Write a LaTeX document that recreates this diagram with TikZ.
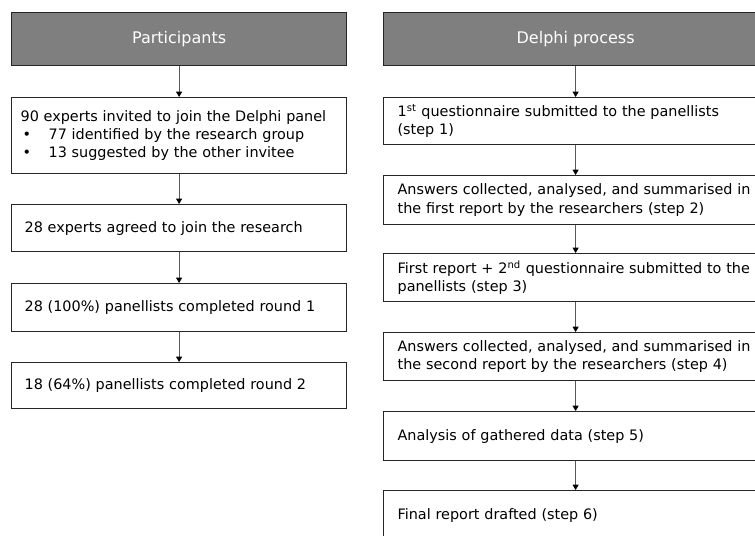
\documentclass[tikz,border=0pt]{standalone}
\usepackage{fontspec}
\setmainfont{DejaVu Sans}
\usetikzlibrary{arrows.meta}
\definecolor{hdrgray}{HTML}{7F7F7F}
\definecolor{linegray}{HTML}{262626}
\definecolor{arrgray}{HTML}{595959}
\begin{document}
\begin{tikzpicture}[x=0.75pt,y=-0.75pt,
  every node/.style={font=\fontsize{10.8}{13.8}\selectfont},
  hdr/.style={draw=linegray, line width=0.9pt, fill=hdrgray, text=white, anchor=north west,
    minimum height=39.75pt, inner ysep=0pt, inner xsep=0pt, align=center,
    font=\fontsize{12}{14}\selectfont},
  lbox/.style={draw=linegray, line width=0.9pt, anchor=north west, align=left,
    inner xsep=6.75pt, inner ysep=0pt, text width=237.75pt},
  rbox/.style={draw=linegray, line width=0.9pt, anchor=north west, align=left,
    inner xsep=10.5pt, inner ysep=0pt, text width=267pt},
  arr/.style={draw=arrgray, line width=0.6pt, -{Triangle[width=4.5pt,length=4pt,color=black]}}
]
\useasboundingbox (0,0) rectangle (755,535);
\clip (0,0) rectangle (755,535);
% left column
\node[hdr, minimum width=251.25pt] (hl) at (11,12) {Participants};
\node[lbox, minimum height=57pt] (l1) at (11,97) {90 experts invited to join the Delphi panel\\
\hspace*{1.5pt}\makebox[19.5pt][l]{•}77 identified by the research group\\
\hspace*{1.5pt}\makebox[19.5pt][l]{•}13 suggested by the other invitee};
\node[lbox, minimum height=35.25pt] (l2) at (11,204) {\hspace*{3pt}28 experts agreed to join the research};
\node[lbox, minimum height=36pt] (l3) at (11,283) {\hspace*{3pt}28 (100\%) panellists completed round 1};
\node[lbox, minimum height=34.5pt] (l4) at (11,362) {\hspace*{3pt}18 (64\%) panellists completed round 2};
\draw[arr] (hl.south) -- (l1.north);
\draw[arr] (l1.south) -- (l2.north);
\draw[arr] (l2.south) -- (l3.north);
\draw[arr] (l3.south) -- (l4.north);
% right column
\node[hdr, minimum width=288pt] (hr) at (383,12) {Delphi process};
\node[rbox, minimum height=35.25pt] (r1) at (383,97) {1\textsuperscript{st} questionnaire submitted to the panellists\\(step 1)};
\node[rbox, minimum height=36.75pt] (r2) at (383,175) {Answers collected, analysed, and summarised in\\the first report by the researchers (step 2)};
\node[rbox, minimum height=36pt] (r3) at (383,253) {First report + 2\textsuperscript{nd} questionnaire submitted to the\\panellists (step 3)};
\node[rbox, minimum height=36pt] (r4) at (383,332) {Answers collected, analysed, and summarised in\\the second report by the researchers (step 4)};
\node[rbox, minimum height=36.75pt] (r5) at (383,411) {Analysis of gathered data (step 5)};
\node[rbox, minimum height=36.75pt] (r6) at (383,490) {Final report drafted (step 6)};
\draw[arr] (hr.south) -- (r1.north);
\draw[arr] (r1.south) -- (r2.north);
\draw[arr] (r2.south) -- (r3.north);
\draw[arr] (r3.south) -- (r4.north);
\draw[arr] (r4.south) -- (r5.north);
\draw[arr] (r5.south) -- (r6.north);
\end{tikzpicture}
\end{document}
